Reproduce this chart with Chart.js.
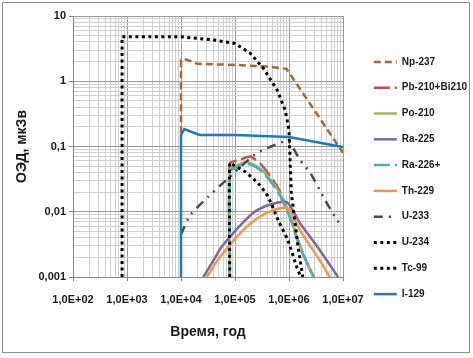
<!DOCTYPE html>
<html lang="ru">
<head>
  <meta charset="UTF-8" />
  <title>ОЭД, мкЗв</title>
  <script src="https://cdn.jsdelivr.net/npm/chart.js"></script>
  <style>
    body { margin: 0; background: #fff; }
    #wrap { position: relative; width: 473px; height: 358px; }
    #frame {
      position: absolute; left: 2px; top: 2px; width: 466px; height: 349px;
      border: 1px solid #8c8c8c; pointer-events: none;
    }
  </style>
</head>
<body>
  <div id="wrap">
    <canvas id="doseChart" width="473" height="358"></canvas>
    <div id="frame"></div>
  </div>

  <script>
    // axis ticks
    const xDecades = [1e2, 1e3, 1e4, 1e5, 1e6, 1e7];
    const xTickLabels = ['1,0E+02', '1,0E+03', '1,0E+04', '1,0E+05', '1,0E+06', '1,0E+07'];
    const yDecades = [0.001, 0.01, 0.1, 1, 10];
    const yTickLabels = ['0,001', '0,01', '0,1', '1', '10'];

    // series (years, dose)
    const npYears = [1e4, 1e4, 1.15e4, 1.6e4, 2e4, 1e5, 4e5, 9e5, 1e7];
    const npDose = [0.16, 2.1, 2.2, 2.0, 1.85, 1.78, 1.68, 1.55, 0.08];

    const pbYears = [8e4, 8e4, 1.2e5, 1.9e5, 2.9e5, 4.5e5, 6.5e5, 1.05e6, 1.6e6, 2.8e6];
    const pbDose = [0.001, 0.055, 0.062, 0.07, 0.055, 0.035, 0.022, 0.0085, 0.003, 0.001];

    const poYears = [8e4, 8e4, 1e5, 1.6e5, 2.5e5, 3.6e5, 6.3e5, 1.05e6, 1.6e6, 2.8e6];
    const poDose = [0.001, 0.045, 0.05, 0.058, 0.05, 0.039, 0.021, 0.0083, 0.0029, 0.001];

    const ra225Years = [2.6e4, 4e4, 5.5e4, 8e4, 1.4e5, 2.3e5, 4.1e5, 9.1e5, 1.6e6, 3.7e6, 8.1e6];
    const ra225Dose = [0.001, 0.0018, 0.0028, 0.0041, 0.0068, 0.01, 0.0126, 0.014, 0.0067, 0.0026, 0.001];

    const ra226Years = [8e4, 8e4, 1e5, 1.6e5, 2.5e5, 3.6e5, 6.3e5, 1.05e6, 1.6e6, 2.9e6];
    const ra226Dose = [0.001, 0.042, 0.047, 0.055, 0.048, 0.037, 0.02, 0.008, 0.0028, 0.001];

    const thYears = [3e4, 4.5e4, 8e4, 1.4e5, 2.3e5, 4e5, 7.5e5, 1e6, 1.6e6, 3.7e6, 5.7e6];
    const thDose = [0.001, 0.0017, 0.0031, 0.0052, 0.0074, 0.0098, 0.0115, 0.011, 0.0052, 0.0018, 0.001];

    const u233Years = [1e4, 1.5e4, 3.2e4, 7e4, 2.3e5, 4e5, 9.5e5, 1.6e6, 2.5e6, 4.3e6, 7.8e6, 1e7];
    const u233Dose = [0.0045, 0.009, 0.017, 0.031, 0.075, 0.095, 0.12, 0.062, 0.039, 0.017, 0.0074, 0.006];

    const u234Years = [810, 810, 1e4, 4e4, 1e5, 1.9e5, 3.3e5, 6e5, 8.5e5, 1e6, 1.1e6, 1.47e6, 1.8e6];
    const u234Dose = [0.001, 4.8, 4.8, 4.3, 3.8, 2.7, 1.6, 0.74, 0.36, 0.18, 0.02, 0.0029, 0.001];

    const tcYears = [8e4, 8e4, 1e5, 1.55e5, 2.7e5, 4.1e5, 6.3e5, 9.6e5, 1.4e6, 1.66e6];
    const tcDose = [0.001, 0.056, 0.05, 0.041, 0.027, 0.017, 0.0074, 0.0036, 0.0014, 0.001];

    const iYears = [1e4, 1e4, 1.15e4, 1.5e4, 2.2e4, 1e5, 1e6, 1e7];
    const iDose = [0.001, 0.15, 0.185, 0.17, 0.15, 0.15, 0.14, 0.098];

    const series = [
      { label: 'Np-237', x: npYears, y: npDose, color: '#b0652a', dash: [7, 4], smooth: 0 },
      { label: 'Pb-210+Bi210', x: pbYears, y: pbDose, color: '#c0504d', dash: [16, 5], smooth: 0.2 },
      { label: 'Po-210', x: poYears, y: poDose, color: '#9bbb59', dash: [], smooth: 0.2 },
      { label: 'Ra-225', x: ra225Years, y: ra225Dose, color: '#8064a2', dash: [], smooth: 0.2 },
      { label: 'Ra-226+', x: ra226Years, y: ra226Dose, color: '#4bacc6', dash: [16, 5], smooth: 0.2 },
      { label: 'Th-229', x: thYears, y: thDose, color: '#f79646', dash: [], smooth: 0.2 },
      { label: 'U-233', x: u233Years, y: u233Dose, color: '#4a4a4a', dash: [9, 6, 2, 6, 2, 6], smooth: 0.2 },
      { label: 'U-234', x: u234Years, y: u234Dose, color: '#000000', dash: [3, 3.5], smooth: 0 },
      { label: 'Tc-99', x: tcYears, y: tcDose, color: '#000000', dash: [3, 3.5], smooth: 0.2 },
      { label: 'I-129', x: iYears, y: iDose, color: '#1f78c4', dash: [], smooth: 0 }
    ];

    const datasets = series.map((s, i) => ({
      label: s.label,
      data: s.x.map((x, k) => ({ x: x, y: s.y[k] })),
      borderColor: s.color,
      backgroundColor: s.color,
      borderWidth: s.label === 'U-234' || s.label === 'Tc-99' ? 3 : 2.5,
      borderDash: s.dash,
      pointRadius: 0,
      tension: s.smooth,
      fill: false,
      order: series.length - i
    }));

    function logTicks(decades) {
      const ticks = [];
      decades.forEach((d, i) => {
        const last = i === decades.length - 1;
        for (let m = 1; m <= (last ? 1 : 9); m++) {
          ticks.push({ value: m * d, major: m === 1 });
        }
      });
      return ticks;
    }

    const gridColor = (ctx) => ctx.tick && ctx.tick.major ? '#9a9a9a' : '#d0d0d0';
    const tickFont = { family: "'Liberation Sans Narrow', Arial, sans-serif", size: 11, weight: 'bold' };

    // nudge the legend block to where it sits in the picture
    const legendShift = {
      id: 'legendShift',
      afterLayout(chart) {
        const lg = chart.legend;
        lg.left += 15; lg.right += 15;
        lg.top -= 9; lg.bottom -= 9;
      }
    };

    new Chart(document.getElementById('doseChart'), {
      type: 'line',
      data: { datasets: datasets },
      plugins: [legendShift],
      options: {
        responsive: false,
        animation: false,
        color: '#1a1a1a',
        layout: { padding: { top: 16, right: 20, bottom: 0, left: 0 } },
        plugins: {
          tooltip: { enabled: false },
          legend: {
            position: 'right',
            maxWidth: 110,
            labels: {
              usePointStyle: true,
              pointStyle: 'line',
              pointStyleWidth: 23,
              padding: 15.8,
              color: '#1a1a1a',
              font: { family: "'Liberation Sans Narrow', Arial, sans-serif", size: 10, weight: 'bold' },
              sort: (a, b) => a.datasetIndex - b.datasetIndex,
              generateLabels: (chart) => {
                const items = Chart.defaults.plugins.legend.labels.generateLabels(chart);
                items.forEach(it => {
                  const ds = chart.data.datasets[it.datasetIndex];
                  it.lineDash = ds.borderDash;
                  it.lineWidth = ds.borderWidth;
                  it.strokeStyle = ds.borderColor;
                });
                return items;
              }
            }
          }
        },
        scales: {
          x: {
            type: 'logarithmic',
            min: 1e2,
            max: 1e7,
            afterBuildTicks: (scale) => { scale.ticks = logTicks(xDecades); },
            afterFit: (scale) => { scale.height = 81; },
            ticks: {
              autoSkip: false,
              maxRotation: 0,
              padding: 12,
              color: '#1a1a1a',
              font: tickFont,
              callback: (v) => {
                const k = xDecades.indexOf(v);
                return k >= 0 ? xTickLabels[k] : '';
              }
            },
            grid: {
              color: gridColor,
              tickColor: (ctx) => ctx.tick && ctx.tick.major ? '#888' : 'rgba(0,0,0,0)',
              tickLength: 4
            },
            border: { color: '#888', width: 1 },
            title: {
              display: true,
              text: 'Время, год',
              color: '#1a1a1a',
              font: { family: "'Liberation Sans Narrow', Arial, sans-serif", size: 14, weight: 'bold' },
              padding: { top: 0, bottom: 17.6 }
            }
          },
          y: {
            type: 'logarithmic',
            min: 0.001,
            max: 10,
            afterBuildTicks: (scale) => { scale.ticks = logTicks(yDecades); },
            afterFit: (scale) => { scale.width = 73; },
            ticks: {
              autoSkip: false,
              padding: 3,
              color: '#1a1a1a',
              font: tickFont,
              callback: (v) => {
                const k = yDecades.indexOf(v);
                return k >= 0 ? yTickLabels[k] : '';
              }
            },
            grid: {
              color: gridColor,
              tickColor: (ctx) => ctx.tick && ctx.tick.major ? '#888' : 'rgba(0,0,0,0)',
              tickLength: 4
            },
            border: { color: '#888', width: 1 },
            title: {
              display: true,
              text: 'ОЭД, мкЗв',
              color: '#1a1a1a',
              font: { family: "'Liberation Sans', Arial, sans-serif", size: 14, weight: 'bold' },
              padding: { top: 13.6, bottom: 0 }
            }
          }
        }
      }
    });
  </script>
</body>
</html>
